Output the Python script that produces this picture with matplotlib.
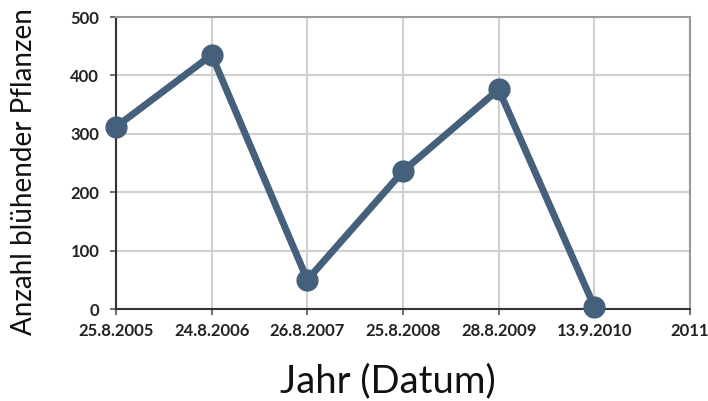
import matplotlib.pyplot as plt

# Daten
dates = ["25.8.2005", "24.8.2006", "26.8.2007", "25.8.2008", "28.8.2009", "13.9.2010", "2011"]
counts = [312, 435, 50, 236, 376, 4]

plt.rcParams['font.family'] = ['Lato', 'DejaVu Sans']

fig = plt.figure(figsize=(7.08, 4.01), dpi=100)
ax = fig.add_axes([0.1638, 0.2294, 0.9746 - 0.1638, 0.9576 - 0.2294])

x = list(range(len(counts)))
ax.plot(x, counts, color='#44607a', linewidth=5, marker='o', markersize=15,
        solid_joinstyle='miter', zorder=3, clip_on=False)

ax.set_xlim(0, len(dates) - 1)
ax.set_ylim(0, 500)
ax.set_xticks(range(len(dates)))
ax.set_xticklabels(dates, fontsize=12, fontweight='bold', color='#222222')
ax.set_yticks([0, 100, 200, 300, 400, 500])
ax.set_yticklabels(["0", "100", "200", "300", "400", "500"], fontsize=12,
                   fontweight='bold', color='#222222')

ax.grid(True, color='#cfcfcf', linewidth=1.5)
ax.set_axisbelow(True)
ax.tick_params(axis='both', length=4, width=1.2, color='#555555')
ax.tick_params(axis='x', pad=6)
ax.tick_params(axis='y', pad=8)

for s in ['left', 'bottom']:
    ax.spines[s].set_color('#333333')
    ax.spines[s].set_linewidth(1.5)
for s in ['top', 'right']:
    ax.spines[s].set_color('#999999')
    ax.spines[s].set_linewidth(1.5)

# Achsentitel, mittig positioniert wie im Original
ax.set_ylabel("Anzahl blühender Pflanzen", fontsize=20, color='#111111',
              va='center', ha='center')
ax.yaxis.set_label_coords(24 / 708, 1 - 172 / 401, transform=fig.transFigure)
ax.set_xlabel("Jahr (Datum)", fontsize=27.5, color='#111111',
              va='center', ha='center')
ax.xaxis.set_label_coords(388 / 708, 1 - 381 / 401, transform=fig.transFigure)

fig.savefig("out.png", dpi=100)
